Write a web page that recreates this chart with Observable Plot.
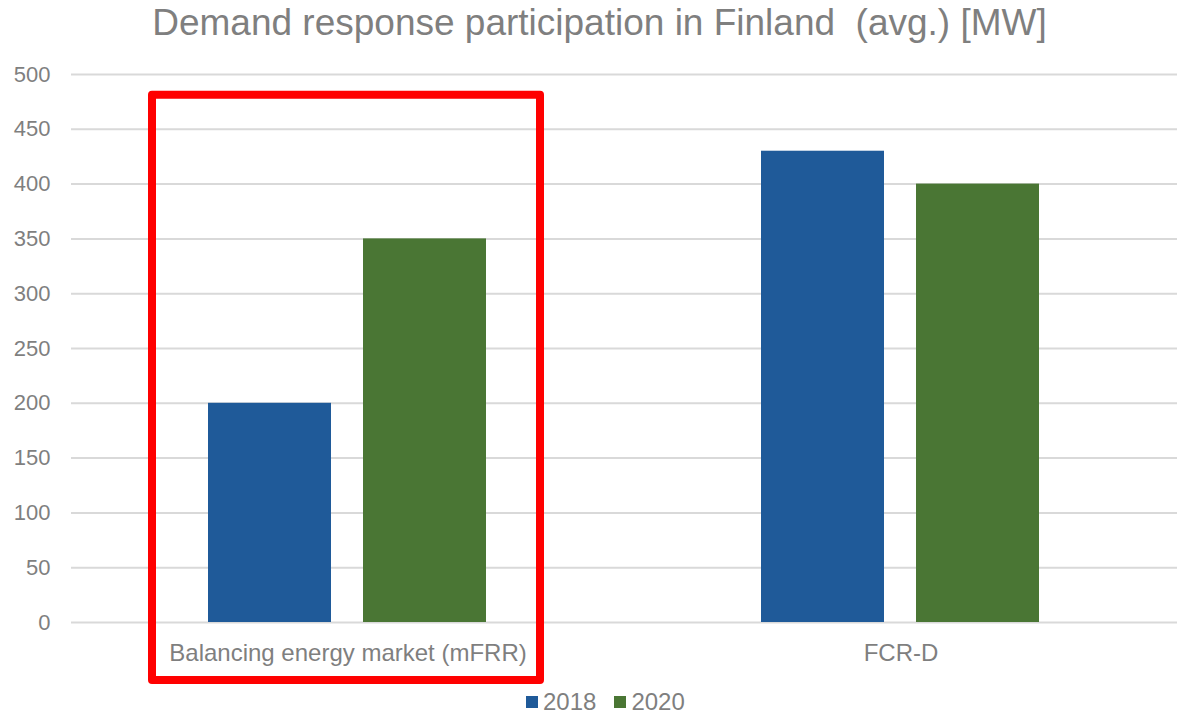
<!DOCTYPE html>
<html>
<head>
<meta charset="utf-8">
<script src="https://cdn.jsdelivr.net/npm/d3@7"></script>
<script src="https://cdn.jsdelivr.net/npm/@observablehq/plot@0.6"></script>
<style>
  html, body { margin: 0; padding: 0; background: #fff; }
  #wrap { position: relative; width: 1179px; height: 721px; overflow: hidden; font-family: "Liberation Sans", Arial, sans-serif; color: #7f7f7f; }
  #title { position: absolute; left: 10px; top: 4px; width: 1179px; text-align: center; font-size: 37px; line-height: 1; white-space: pre; }
  #legend { position: absolute; left: 526px; top: 690px; font-size: 24px; line-height: 1; display: flex; align-items: center; white-space: nowrap; }
  #legend .sw { display: inline-block; width: 12px; height: 12px; margin-right: 5px; }
  #legend .item { display: flex; align-items: center; margin-right: 18px; }
  #chart { position: absolute; left: 0; top: 0; }
  #chart svg g[aria-label="fx-axis tick label"] { font-size: 24px; }
</style>
</head>
<body>
<div id="wrap">
  <div id="chart"></div>
  <div id="title"></div>
  <div id="legend"></div>
</div>
<script>
const titleText = "Demand response participation in Finland  (avg.) [MW]";
const categories = ["Balancing energy market (mFRR)", "FCR-D"];
const years = ["2018", "2020"];
const values2018 = [200, 430];
const values2020 = [350, 400];
const yTicks = [0, 50, 100, 150, 200, 250, 300, 350, 400, 450, 500];
const yearColors = ["#1F5A99", "#4A7634"];
const highlight = [{category: categories[0], y1: -53, y2: 481}];

const data = categories.flatMap((c, i) => [
  {category: c, year: years[0], value: values2018[i]},
  {category: c, year: years[1], value: values2020[i]}
]);

const plot = Plot.plot({
  width: 1179,
  height: 721,
  marginTop: 74,
  marginBottom: 99,
  marginLeft: 71,
  marginRight: 2,
  style: {fontFamily: "'Liberation Sans', Arial, sans-serif", fontSize: "22px", color: "#7f7f7f", background: "transparent", overflow: "visible"},
  fx: {domain: categories, padding: 0, axis: "bottom", label: null, tickSize: 0, tickPadding: 21},
  x: {domain: years, paddingInner: 0.205, paddingOuter: 0.875, axis: null},
  y: {domain: [0, 500], ticks: yTicks, tickSize: 0, tickPadding: 21, label: null},
  color: {domain: years, range: yearColors},
  marks: [
    Plot.ruleY(yTicks, {stroke: "#d9d9d9", strokeWidth: 2}),
    Plot.barY(data, {fx: "category", x: "year", y: "value", fill: "year"}),
    Plot.rect(highlight, {fx: "category", y1: "y1", y2: "y2", fill: "none", stroke: "#ff0000", strokeWidth: 8, strokeLinejoin: "round", insetLeft: 81, insetRight: 84, clip: false})
  ]
});
document.getElementById("chart").appendChild(plot);
// enlarge category labels
plot.querySelectorAll('g[aria-label="fx-axis tick label"]').forEach(g => g.setAttribute("font-size", "24"));
document.getElementById("title").textContent = titleText;

const legend = document.getElementById("legend");
years.forEach((y, i) => {
  const item = document.createElement("span");
  item.className = "item";
  const sw = document.createElement("span");
  sw.className = "sw";
  sw.style.background = yearColors[i];
  item.appendChild(sw);
  item.appendChild(document.createTextNode(y));
  legend.appendChild(item);
});
</script>
</body>
</html>
